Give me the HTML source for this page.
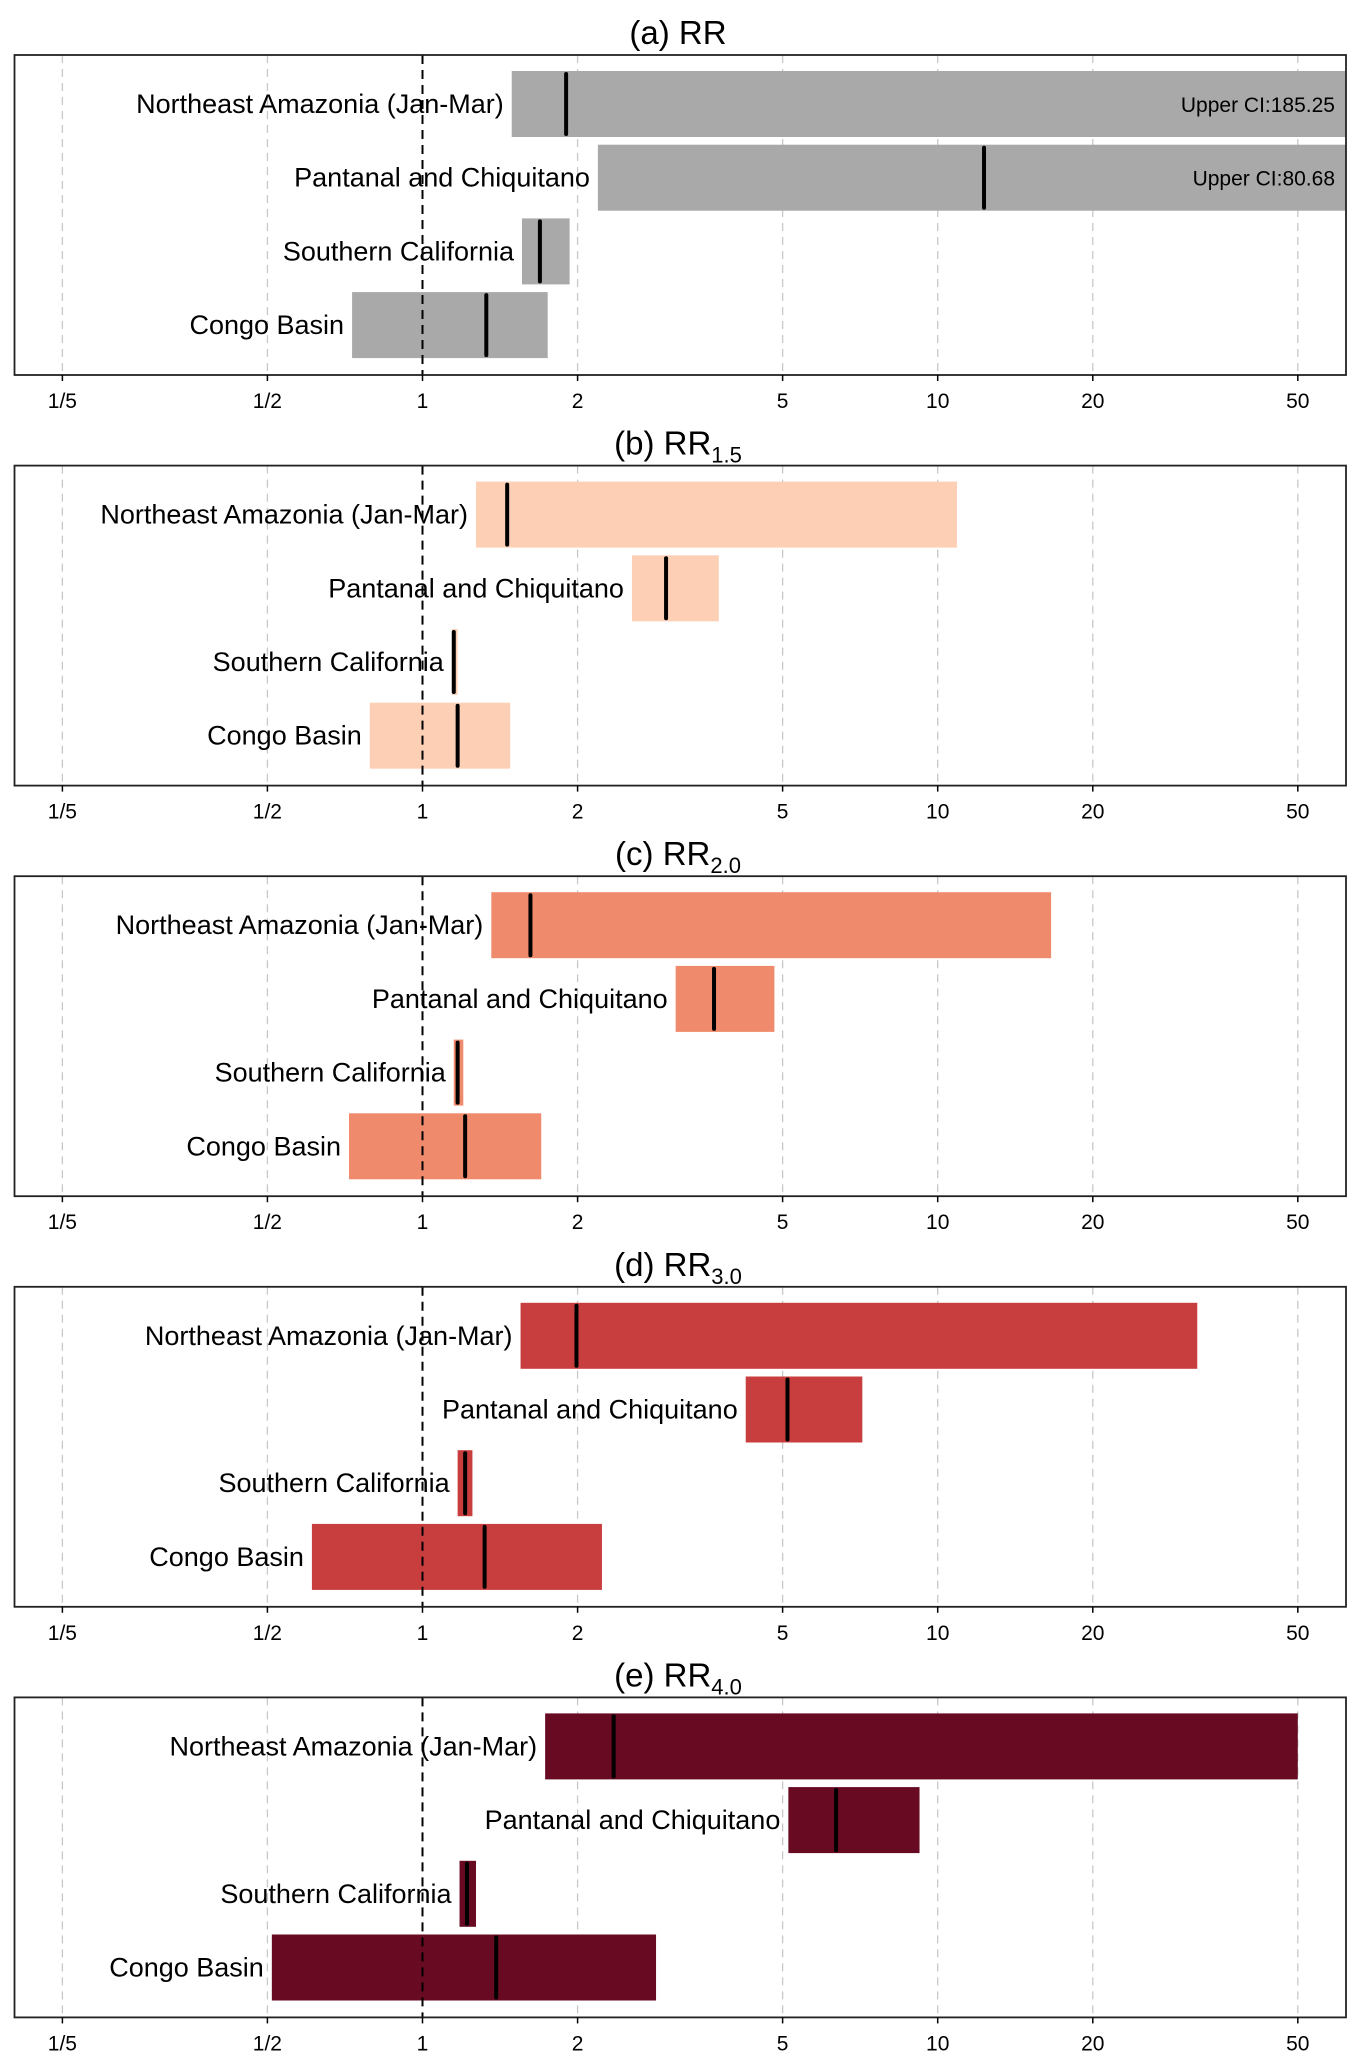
<!DOCTYPE html>
<html><head><meta charset="utf-8"><style>
html,body{margin:0;padding:0;background:#fff}
svg{display:block}
text{font-family:"Liberation Sans",sans-serif}
</style></head><body>
<svg id="chart" width="1357" height="2060" viewBox="0 0 1357 2060" xmlns="http://www.w3.org/2000/svg"></svg>
<script>
const regions = ["Northeast Amazonia (Jan-Mar)","Pantanal and Chiquitano","Southern California","Congo Basin"];
const tickValues = [0.2,0.5,1,2,5,10,20,50];
const tickLabels = ["1/5","1/2","1","2","5","10","20","50"];
const panelLetters = ["a","b","c","d","e"];
const panelSubs = ["","1.5","2.0","3.0","4.0"];
const panelColors = ["#a9a9a9","#fdd0b6","#f08a6c","#c83d3e","#670a22"];
// [lower, median, upper] per region, per panel
const lowA = [1.49,2.19,1.56,0.73], medA = [1.90,12.3,1.69,1.33], upA = [185.25,80.68,1.93,1.75];
const lowB = [1.27,2.55,1.14,0.79], medB = [1.46,2.97,1.15,1.17], upB = [10.9,3.76,1.17,1.48];
const lowC = [1.36,3.10,1.15,0.72], medC = [1.62,3.68,1.17,1.21], upC = [16.6,4.82,1.20,1.70];
const lowD = [1.55,4.24,1.17,0.61], medD = [1.99,5.11,1.21,1.32], upD = [31.9,7.14,1.25,2.23];
const lowE = [1.73,5.13,1.18,0.51], medE = [2.35,6.35,1.22,1.39], upE = [50.0,9.22,1.27,2.84];
const lows=[lowA,lowB,lowC,lowD,lowE], meds=[medA,medB,medC,medD,medE], ups=[upA,upB,upC,upD,upE];

const NS="http://www.w3.org/2000/svg";
const svg=document.getElementById('chart');
const boxL=14.5, boxR=1346;
const x1=422.5, dec=515.2;
function xs(v){return x1+dec*Math.log10(v);}
function mk(t,a,p){const e=document.createElementNS(NS,t);for(const k in a)e.setAttribute(k,a[k]);(p||svg).appendChild(e);return e;}

for(let p=0;p<5;p++){
  const top=55+p*410.6, bot=top+320;
  const g=mk('g',{});
  
  
  const t=mk('text',{x:678,y:top-11,'text-anchor':'middle','font-size':33},g);
  
  
  t.textContent='('+panelLetters[p]+') RR';
  if(panelSubs[p]){const s=mk('tspan',{'font-size':22,dy:8},t);s.textContent=panelSubs[p];}
  tickValues.forEach((v,i)=>{
    if(v===1)return;
    const l=mk('line',{x1:xs(v),x2:xs(v),y1:top,y2:bot,stroke:'#c8c8c8','stroke-width':1.3,'stroke-dasharray':'8,6'},g);
    
    
  });
  for(let r=0;r<4;r++){
    const cy=top+49+r*73.7, h=66;
    const lo=Math.max(xs(lows[p][r]),boxL), hi=Math.min(xs(ups[p][r]),boxR);
    const b=mk('rect',{x:lo,y:cy-h/2,width:hi-lo,height:h,fill:panelColors[p]},g);
    
    
    const m=mk('line',{x1:xs(meds[p][r]),x2:xs(meds[p][r]),y1:cy-h/2+3,y2:cy+h/2-3,stroke:'#000','stroke-width':4,'stroke-linecap':'round'},g);
    
    
    const lb=mk('text',{x:lo-8,y:cy+9,'text-anchor':'end','font-size':27},g);
    
    
    lb.textContent=regions[r];
    if(xs(ups[p][r])>boxR){
      const u=mk('text',{x:1335,y:cy+8,'text-anchor':'end','font-size':21},g);
      
      
      u.textContent='Upper CI:'+ups[p][r].toFixed(2);
    }
  }
  const rl=mk('line',{x1:xs(1),x2:xs(1),y1:top,y2:bot,stroke:'#000','stroke-width':2,'stroke-dasharray':'9,6'},g);
  
  
  const bx=mk('rect',{x:boxL,y:top,width:boxR-boxL,height:bot-top,fill:'none',stroke:'#222','stroke-width':1.8},g);
  
  
  tickValues.forEach((v,i)=>{
    const tk=mk('line',{x1:xs(v),x2:xs(v),y1:bot,y2:bot+6,stroke:'#000','stroke-width':1.5},g);
    
    
    const tl=mk('text',{x:xs(v),y:bot+33,'text-anchor':'middle','font-size':21},g);
    
    
    tl.textContent=tickLabels[i];
  });
}
</script>
</body></html>
